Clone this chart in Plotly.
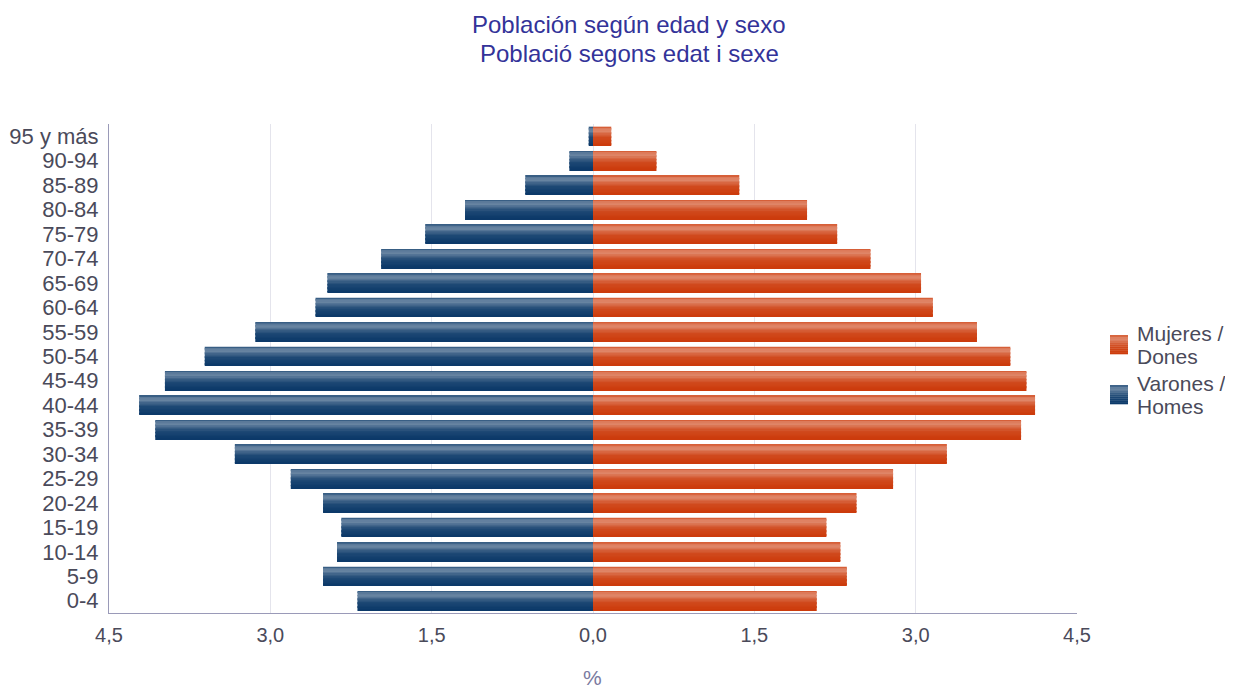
import plotly.graph_objects as go

age_groups = ["0-4", "5-9", "10-14", "15-19", "20-24", "25-29", "30-34", "35-39",
              "40-44", "45-49", "50-54", "55-59", "60-64", "65-69", "70-74",
              "75-79", "80-84", "85-89", "90-94", "95 y más"]
males = [2.19, 2.51, 2.38, 2.34, 2.51, 2.81, 3.33, 4.07, 4.22, 3.98, 3.61,
         3.14, 2.58, 2.47, 1.97, 1.56, 1.19, 0.63, 0.22, 0.04]
females = [2.08, 2.36, 2.30, 2.17, 2.45, 2.79, 3.29, 3.98, 4.11, 4.03, 3.88,
           3.57, 3.16, 3.05, 2.58, 2.27, 1.99, 1.36, 0.59, 0.17]
tick_vals = [-4.5, -3.0, -1.5, 0.0, 1.5, 3.0, 4.5]
tick_text = ["4,5", "3,0", "1,5", "0,0", "1,5", "3,0", "4,5"]

male_name = ["Varones /", "Homes"]
female_name = ["Mujeres /", "Dones"]
title_lines = ["Población según edad y sexo", "Població segons edat i sexe"]

male_rgb = (10, 56, 104)
female_rgb = (204, 58, 10)

BAR_W = 0.78
N_BANDS = 14


def light_at(t):
    # t = 0 top edge, 1 bottom edge -> amount of white blend
    pts = [(0.0, 0.12), (0.12, 0.35), (0.25, 0.38), (0.4, 0.22), (0.6, 0.08), (1.0, 0.0)]
    for (t0, v0), (t1, v1) in zip(pts[:-1], pts[1:]):
        if t0 <= t <= t1:
            return v0 + (v1 - v0) * (t - t0) / (t1 - t0)
    return 0.0


def blend(rgb, a):
    r, g, b = (int(round(c + (255 - c) * a)) for c in rgb)
    return f"rgb({r},{g},{b})"


fig = go.Figure()
band_w = BAR_W / N_BANDS


def add_series(values, rgb, name, sign):
    xs = [sign * v for v in values]
    for k in range(N_BANDS):
        t = (k + 0.5) / N_BANDS
        offset = BAR_W / 2 - (k + 1) * band_w
        fig.add_trace(go.Bar(
            y=age_groups, x=xs, orientation="h",
            width=band_w * 1.03, offset=offset,
            marker=dict(color=blend(rgb, light_at(t)), line=dict(width=0)),
            name=" ".join(name), showlegend=False,
            hoverinfo="skip" if k else "x+y",
        ))


add_series(females, female_rgb, female_name, 1)
add_series(males, male_rgb, male_name, -1)

# custom legend (gradient swatches)
shapes = []
annotations = []
PX_L, PX_W, PX_T, PX_H = 109, 968, 124, 489


def px_x(px):
    return (px - PX_L) / PX_W


def px_y(py):
    return (PX_T + PX_H - py) / PX_H


for rgb, name, top in [(female_rgb, female_name, 335), (male_rgb, male_name, 385)]:
    h = 19
    nb = 10
    for k in range(nb):
        t = (k + 0.5) / nb
        shapes.append(dict(type="rect", xref="paper", yref="paper",
                           x0=px_x(1110), x1=px_x(1128),
                           y0=px_y(top + (k + 1) * h / nb + 0.3), y1=px_y(top + k * h / nb),
                           fillcolor=blend(rgb, light_at(t)), line=dict(width=0), layer="above"))
    for i, line in enumerate(name):
        annotations.append(dict(text=line, x=px_x(1135), y=px_y(top - 2 + 23.5 * i),
                                xref="paper", yref="paper",
                                xanchor="left", yanchor="middle", align="left", showarrow=False,
                                font=dict(size=21, color="#4a4a5a")))

for i, line in enumerate(title_lines):
    annotations.append(dict(text=line, x=px_x(629), y=px_y(24 + 29 * i), xref="paper", yref="paper",
                            xanchor="center", yanchor="middle", showarrow=False,
                            font=dict(size=24, color="#333399")))
annotations.append(dict(text="%", x=px_x(592), y=px_y(677), xref="paper", yref="paper",
                        xanchor="center", yanchor="middle", showarrow=False,
                        font=dict(size=21, color="#7a7aa0")))

# figure sized to fit inside the page body (8px default body margin)
fig.update_layout(
    width=1225, height=683,
    barmode="overlay",
    plot_bgcolor="white", paper_bgcolor="white",
    font=dict(family="Liberation Sans, Arial, sans-serif", color="#4a4a5a", size=20),
    margin=dict(l=101, r=156, t=116, b=78, autoexpand=False),
    showlegend=False,
    shapes=shapes,
    annotations=annotations,
)

fig.update_xaxes(range=[-4.5, 4.5], tickmode="array", tickvals=tick_vals, ticktext=tick_text,
                 showgrid=True, gridcolor="#e4e4ec", gridwidth=1,
                 zeroline=False, showline=True, linecolor="#9a9ab8", linewidth=1,
                 ticks="", tickfont=dict(size=20, color="#4a4a5a"), ticklabelstandoff=4)
fig.update_yaxes(categoryorder="array", categoryarray=age_groups,
                 tickmode="array", tickvals=age_groups, ticktext=age_groups,
                 range=[-0.5, len(age_groups) - 0.5],
                 showgrid=False, zeroline=False, showline=True,
                 linecolor="#9a9ab8", linewidth=1, ticks="",
                 tickfont=dict(size=22, color="#4a4a5a"), ticklabelstandoff=5)

fig.write_html("out.html")
